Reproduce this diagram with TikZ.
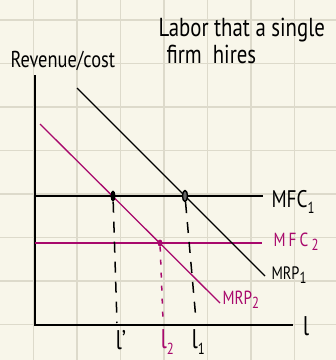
\documentclass[tikz,border=0pt]{standalone}
\usepackage{fontspec}
\setmainfont{PT Sans}[FakeStretch=0.8]
\usetikzlibrary{shapes.geometric,positioning}
\definecolor{paper}{HTML}{F8F6EA}
\definecolor{gridln}{HTML}{DDDACB}
\definecolor{mag}{HTML}{A8086C}
\newcommand\lsub[1]{\raisebox{-0.5ex}{\fontsize{16}{18}\selectfont #1}}

\begin{document}
\begin{tikzpicture}[x=1pt,y=-1pt,font=\fontsize{24}{28}\selectfont,
  curve/.style={line width=1.3pt},
  axis/.style={line width=1.6pt},
  small/.style={font=\fontsize{19}{22}\selectfont},
  dashline/.style={line width=1.5pt,dash pattern=on 11pt off 9pt},
  dotline/.style={mag,line width=1.5pt,dash pattern=on 5pt off 8pt},
  dot/.style={ellipse,inner sep=0pt,minimum width=5pt,minimum height=11pt}]
\fill[paper] (0,0) rectangle (336,360);
\useasboundingbox (0,0) rectangle (336,360);

% paper grid
\draw[gridln,line width=1.5pt]
  (33.5,0) -- (33.5,360) (77,0) -- (77,360) (120.5,0) -- (120.5,360)
  (164,0) -- (164,360) (207.5,0) -- (207.5,360) (251,0) -- (251,360)
  (294.5,0) -- (294.5,360)
  (0,20) -- (336,20) (0,63.5) -- (336,63.5) (0,107) -- (336,107)
  (0,150.5) -- (336,150.5) (0,194) -- (336,194) (0,237.5) -- (336,237.5)
  (0,281) -- (336,281) (0,324.5) -- (336,324.5);

% axes
\draw[axis] (35,75) -- (35,325) -- (293,325);
\node[anchor=base west,font=\fontsize{23}{26}\selectfont] (ylab) at (7,67) {Revenue/cost};
\node[font=\fontsize{27}{30}\selectfont] (xlab) at (306,326) {l};
\node[anchor=base west,font=\fontsize{26}{30}\selectfont] (title) at (155,36) {Labor that a single};
\node[anchor=base west,font=\fontsize{26}{30}\selectfont] (title2) at (163,63) {firm\ \ hires};

% cost curves
\draw[curve] (35,196) -- (263,196);
\draw[curve,mag] (35,243) -- (262,243);
\node[anchor=base west] (mfc1) at (268,207) {MFC\lsub{1}};
\node[anchor=base west,mag,small] (mfc2) at (270,246) {M\,F\,C\,\lsub{2}};

% demand curves
\draw[curve] (77,88) -- (265,276);
\draw[curve,mag] (40,124) -- (220,303);
\node[anchor=base west,font=\fontsize{18}{20}\selectfont] (mrp1) at (268,279) {MRP\lsub{1}};
\node[anchor=base west,mag,small] (mrp2) at (219,304) {MRP\lsub{2}};

% equilibria
\node[dot,fill=black] (e1) at (113,196) {};
\node[dot,draw=black,line width=1.4pt,fill=black!60] (e2) at (185,196) {};
\node[dot,fill=mag,minimum width=5pt,minimum height=7pt] (e3) at (160,243) {};
\coordinate (f1) at (117,323);
\coordinate (f2) at (196,320);
\coordinate (f3) at (163,320);
\draw[dashline] (e1) -- (f1);
\draw[dashline] (e2) -- (f2);
\draw[dotline] (e3) -- (f3);

% quantities
\node[anchor=base west,font=\fontsize{27}{30}\selectfont] (q1) at (112,349) {l\textquoteright};
\node[anchor=base west,mag,font=\fontsize{27}{30}\selectfont] (q2) at (157,348) {l\lsub{2}};
\node[anchor=base west,font=\fontsize{27}{30}\selectfont] (q3) at (188,348) {l\lsub{1}};
\end{tikzpicture}
\end{document}
